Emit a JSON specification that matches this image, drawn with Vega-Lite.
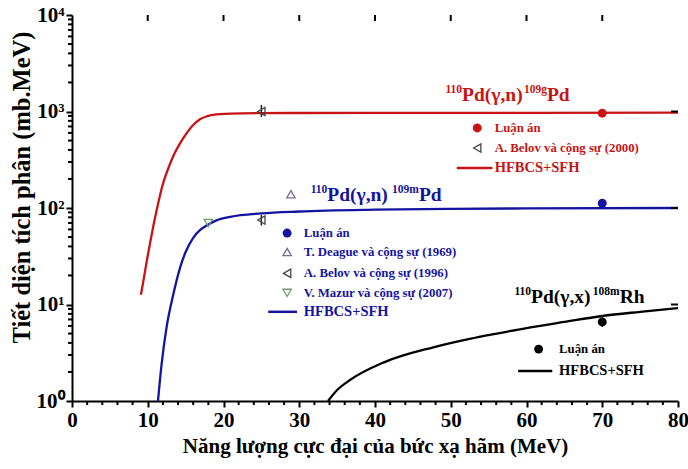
{
  "$schema": "https://vega.github.io/schema/vega-lite/v6.json",
  "width": 606,
  "height": 386,
  "autosize": "none",
  "padding": {"left": 72, "top": 15, "right": 10, "bottom": 68},
  "background": "white",
  "config": {
    "view": {"stroke": null},
    "font": "Liberation Serif",
    "axis": {"ticks": true, "grid": false, "tickColor": "black", "tickWidth": 2, "tickSize": 6, "domainColor": "black", "domainWidth": 2, "labelOverlap": false, "labelFlush": false, "labelBound": false, "labelColor": "black", "labelFontSize": 21, "labelFontWeight": "bold", "labelPadding": 2, "titleColor": "black", "titleFontWeight": "bold"}
  },
  "datasets": {
    "curves": [
      {"series": "109g", "x": 9.1, "y": 12.6}, {"series": "109g", "x": 9.5, "y": 19}, {"series": "109g", "x": 9.9, "y": 29},
      {"series": "109g", "x": 10.3, "y": 43}, {"series": "109g", "x": 10.7, "y": 63}, {"series": "109g", "x": 11.3, "y": 105},
      {"series": "109g", "x": 11.9, "y": 166}, {"series": "109g", "x": 12.85, "y": 275}, {"series": "109g", "x": 13.5, "y": 363},
      {"series": "109g", "x": 14.26, "y": 468}, {"series": "109g", "x": 15, "y": 575}, {"series": "109g", "x": 16, "y": 724},
      {"series": "109g", "x": 16.9, "y": 832}, {"series": "109g", "x": 17.8, "y": 891}, {"series": "109g", "x": 18.6, "y": 922},
      {"series": "109g", "x": 21, "y": 950}, {"series": "109g", "x": 25, "y": 962}, {"series": "109g", "x": 30, "y": 965},
      {"series": "109g", "x": 40, "y": 968}, {"series": "109g", "x": 60, "y": 970}, {"series": "109g", "x": 80, "y": 972},
      {"series": "109m", "x": 11.35, "y": 1}, {"series": "109m", "x": 11.8, "y": 2.3}, {"series": "109m", "x": 12.5, "y": 5.9},
      {"series": "109m", "x": 13.3, "y": 12}, {"series": "109m", "x": 14.26, "y": 24}, {"series": "109m", "x": 15, "y": 35},
      {"series": "109m", "x": 16, "y": 49}, {"series": "109m", "x": 17, "y": 60}, {"series": "109m", "x": 17.8, "y": 66},
      {"series": "109m", "x": 19, "y": 74}, {"series": "109m", "x": 20.9, "y": 81},
      {"series": "109m", "x": 25, "y": 88}, {"series": "109m", "x": 30, "y": 92}, {"series": "109m", "x": 40, "y": 96},
      {"series": "109m", "x": 50, "y": 98}, {"series": "109m", "x": 60, "y": 99}, {"series": "109m", "x": 80, "y": 100},
      {"series": "108m", "x": 33.8, "y": 1}, {"series": "108m", "x": 35, "y": 1.3}, {"series": "108m", "x": 36.7, "y": 1.65},
      {"series": "108m", "x": 41.1, "y": 2.5}, {"series": "108m", "x": 47.7, "y": 3.6}, {"series": "108m", "x": 52.5, "y": 4.4},
      {"series": "108m", "x": 56.1, "y": 5.0}, {"series": "108m", "x": 60, "y": 5.7}, {"series": "108m", "x": 65, "y": 6.6},
      {"series": "108m", "x": 70, "y": 7.6}, {"series": "108m", "x": 75, "y": 8.4}, {"series": "108m", "x": 80, "y": 9.2}
    ],
    "xticks": [
      {"x": 0, "kind": "major"}, {"x": 2, "kind": "minor"}, {"x": 4, "kind": "minor"}, {"x": 6, "kind": "minor"}, {"x": 8, "kind": "minor"},
      {"x": 10, "kind": "major"}, {"x": 12, "kind": "minor"}, {"x": 14, "kind": "minor"}, {"x": 16, "kind": "minor"}, {"x": 18, "kind": "minor"},
      {"x": 20, "kind": "major"}, {"x": 22, "kind": "minor"}, {"x": 24, "kind": "minor"}, {"x": 26, "kind": "minor"}, {"x": 28, "kind": "minor"},
      {"x": 30, "kind": "major"}, {"x": 32, "kind": "minor"}, {"x": 34, "kind": "minor"}, {"x": 36, "kind": "minor"}, {"x": 38, "kind": "minor"},
      {"x": 40, "kind": "major"}, {"x": 42, "kind": "minor"}, {"x": 44, "kind": "minor"}, {"x": 46, "kind": "minor"}, {"x": 48, "kind": "minor"},
      {"x": 50, "kind": "major"}, {"x": 52, "kind": "minor"}, {"x": 54, "kind": "minor"}, {"x": 56, "kind": "minor"}, {"x": 58, "kind": "minor"},
      {"x": 60, "kind": "major"}, {"x": 62, "kind": "minor"}, {"x": 64, "kind": "minor"}, {"x": 66, "kind": "minor"}, {"x": 68, "kind": "minor"},
      {"x": 70, "kind": "major"}, {"x": 72, "kind": "minor"}, {"x": 74, "kind": "minor"}, {"x": 76, "kind": "minor"}, {"x": 78, "kind": "minor"},
      {"x": 80, "kind": "major"}
    ],
    "yticks": [
      {"y": 1, "kind": "major"}, {"y": 2, "kind": "minor"}, {"y": 3, "kind": "minor"}, {"y": 4, "kind": "minor"}, {"y": 5, "kind": "minor"},
      {"y": 6, "kind": "minor"}, {"y": 7, "kind": "minor"}, {"y": 8, "kind": "minor"}, {"y": 9, "kind": "minor"},
      {"y": 10, "kind": "major"}, {"y": 20, "kind": "minor"}, {"y": 30, "kind": "minor"}, {"y": 40, "kind": "minor"}, {"y": 50, "kind": "minor"},
      {"y": 60, "kind": "minor"}, {"y": 70, "kind": "minor"}, {"y": 80, "kind": "minor"}, {"y": 90, "kind": "minor"},
      {"y": 100, "kind": "major"}, {"y": 200, "kind": "minor"}, {"y": 300, "kind": "minor"}, {"y": 400, "kind": "minor"}, {"y": 500, "kind": "minor"},
      {"y": 600, "kind": "minor"}, {"y": 700, "kind": "minor"}, {"y": 800, "kind": "minor"}, {"y": 900, "kind": "minor"},
      {"y": 1000, "kind": "major"}, {"y": 2000, "kind": "minor"}, {"y": 3000, "kind": "minor"}, {"y": 4000, "kind": "minor"}, {"y": 5000, "kind": "minor"},
      {"y": 6000, "kind": "minor"}, {"y": 7000, "kind": "minor"}, {"y": 8000, "kind": "minor"}, {"y": 9000, "kind": "minor"},
      {"y": 10000, "kind": "major"}
    ],
    "topticks": [{"x": 10}, {"x": 20}, {"x": 30}, {"x": 40}, {"x": 50}, {"x": 60}, {"x": 70}],
    "rightticks": [{"y": 10}, {"y": 100}, {"y": 1000}],
    "legendLines": [
      {"series": "109g", "x": 50.8, "x2": 55.5, "y": 260},
      {"series": "109m", "x": 25.9, "x2": 29.7, "y": 8.4},
      {"series": "108m", "x": 58.9, "x2": 63.4, "y": 2.05}
    ],
    "errors": [
      {"x": 25, "y": 875, "y2": 1170},
      {"x": 25, "y": 66, "y2": 85},
      {"x": 70, "y": 5.85, "y2": 7.8}
    ],
    "circles": [
      {"series": "109g", "x": 70, "y": 960},
      {"series": "109m", "x": 70, "y": 112},
      {"series": "108m", "x": 70, "y": 6.6},
      {"series": "109g", "x": 53.5, "y": 676},
      {"series": "109m", "x": 28.4, "y": 55},
      {"series": "108m", "x": 61.6, "y": 3.45}
    ],
    "triangles": [
      {"source": "Belov 2000", "x": 25, "y": 1000},
      {"source": "Deague 1969", "x": 28.9, "y": 139},
      {"source": "Belov 1996", "x": 25, "y": 75},
      {"source": "Mazur 2007", "x": 18, "y": 70},
      {"source": "Belov 2000", "x": 53.5, "y": 418},
      {"source": "Deague 1969", "x": 28.4, "y": 35},
      {"source": "Belov 1996", "x": 28.4, "y": 21},
      {"source": "Mazur 2007", "x": 28.4, "y": 13.2}
    ],
    "titles": [
      {"series": "109g", "part": "sup", "x": 51.5, "y": 1300, "label": "110"},
      {"series": "109g", "part": "main", "x": 51.5, "y": 1300, "label": "Pd(γ,n)"},
      {"series": "109g", "part": "sup", "x": 62.7, "y": 1300, "label": "109g"},
      {"series": "109g", "part": "main", "x": 62.7, "y": 1300, "label": "Pd"},
      {"series": "109m", "part": "sup", "x": 33.7, "y": 118, "label": "110"},
      {"series": "109m", "part": "main", "x": 33.7, "y": 118, "label": "Pd(γ,n)"},
      {"series": "109m", "part": "sup", "x": 45.8, "y": 118, "label": "109m"},
      {"series": "109m", "part": "main", "x": 45.8, "y": 118, "label": "Pd"},
      {"series": "108m", "part": "sup", "x": 60.6, "y": 10.4, "label": "110"},
      {"series": "108m", "part": "main", "x": 60.6, "y": 10.4, "label": "Pd(γ,x)"},
      {"series": "108m", "part": "sup", "x": 72.3, "y": 10.4, "label": "108m"},
      {"series": "108m", "part": "main", "x": 72.3, "y": 10.4, "label": "Rh"}
    ],
    "legendText": [
      {"series": "109g", "kind": "entry", "x": 55.8, "y": 676, "label": "Luận án"},
      {"series": "109g", "kind": "entry", "x": 55.8, "y": 418, "label": "A. Belov và cộng sự (2000)"},
      {"series": "109g", "kind": "model", "x": 55.8, "y": 260, "label": "HFBCS+SFH"},
      {"series": "109m", "kind": "entry", "x": 30.6, "y": 55, "label": "Luận án"},
      {"series": "109m", "kind": "entry", "x": 30.6, "y": 35, "label": "T. Deague và cộng sự (1969)"},
      {"series": "109m", "kind": "entry", "x": 30.6, "y": 21, "label": "A. Belov và cộng sự (1996)"},
      {"series": "109m", "kind": "entry", "x": 30.6, "y": 13.2, "label": "V. Mazur và cộng sự (2007)"},
      {"series": "109m", "kind": "model", "x": 30.6, "y": 8.4, "label": "HFBCS+SFH"},
      {"series": "108m", "kind": "entry", "x": 64.3, "y": 3.45, "label": "Luận án"},
      {"series": "108m", "kind": "model", "x": 64.3, "y": 2.05, "label": "HFBCS+SFH"}
    ]
  },
  "layer": [
    {
      "data": {"name": "curves"},
      "mark": {"type": "line", "strokeWidth": 2.3, "interpolate": "monotone"},
      "encoding": {
        "x": {"field": "x", "type": "quantitative", "scale": {"domain": [0, 80], "nice": false, "zero": false},
          "axis": {"values": [0, 10, 20, 30, 40, 50, 60, 70, 80],
            "title": "Năng lượng cực đại của bức xạ hãm (MeV)", "titleFontSize": 21, "titlePadding": 5}},
        "y": {"field": "y", "type": "quantitative", "scale": {"type": "log", "domain": [1, 10000], "nice": false},
          "axis": {"values": [1, 10, 100, 1000, 10000],
            "labelExpr": "'10' + ['⁰','¹','²','³','⁴'][round(log(datum.value)/LN10)]",
            "title": "Tiết diện tích phân (mb.MeV)", "titleFontSize": 24.5, "titlePadding": 2, "titleY": 172}},
        "color": {"field": "series", "type": "nominal", "scale": {"domain": ["109g", "109m", "108m"], "range": ["#c81414", "#1414a0", "#000000"]}, "legend": null}
      }
    },
    {
      "mark": {"type": "rule", "strokeWidth": 2, "color": "black"},
      "encoding": {
        "x": {"datum": 0, "type": "quantitative"},
        "x2": {"datum": 80},
        "y": {"datum": 10000, "type": "quantitative"}
      }
    },
    {
      "mark": {"type": "rule", "strokeWidth": 2, "color": "black"},
      "encoding": {
        "x": {"datum": 80, "type": "quantitative"},
        "y": {"datum": 1, "type": "quantitative"},
        "y2": {"datum": 10000}
      }
    },
    {
      "data": {"name": "xticks"},
      "transform": [{"filter": "datum.kind === 'minor'"}],
      "mark": {"type": "tick", "orient": "vertical", "size": 4, "thickness": 2, "color": "black", "opacity": 1, "yOffset": 2},
      "encoding": {
        "x": {"field": "x", "type": "quantitative"},
        "y": {"datum": 1, "type": "quantitative"}
      }
    },
    {
      "data": {"name": "yticks"},
      "transform": [{"filter": "datum.kind === 'minor'"}],
      "mark": {"type": "tick", "orient": "horizontal", "size": 4, "thickness": 2, "color": "black", "opacity": 1, "xOffset": -2},
      "encoding": {
        "x": {"datum": 0, "type": "quantitative"},
        "y": {"field": "y", "type": "quantitative"}
      }
    },
    {
      "data": {"name": "topticks"},
      "mark": {"type": "tick", "orient": "vertical", "size": 6, "thickness": 2, "color": "black", "opacity": 1, "yOffset": 3},
      "encoding": {
        "x": {"field": "x", "type": "quantitative"},
        "y": {"datum": 10000, "type": "quantitative"}
      }
    },
    {
      "data": {"name": "rightticks"},
      "mark": {"type": "tick", "orient": "horizontal", "size": 7, "thickness": 2, "color": "black", "opacity": 1, "xOffset": -3.5},
      "encoding": {
        "x": {"datum": 80, "type": "quantitative"},
        "y": {"field": "y", "type": "quantitative"}
      }
    },
    {
      "data": {"name": "legendLines"},
      "mark": {"type": "rule", "strokeWidth": 2.5},
      "encoding": {
        "x": {"field": "x", "type": "quantitative"},
        "x2": {"field": "x2"},
        "y": {"field": "y", "type": "quantitative"},
        "color": {"field": "series", "type": "nominal", "legend": null}
      }
    },
    {
      "data": {"name": "errors"},
      "mark": {"type": "rule", "strokeWidth": 1.5, "color": "#222222"},
      "encoding": {
        "x": {"field": "x", "type": "quantitative"},
        "y": {"field": "y", "type": "quantitative"},
        "y2": {"field": "y2"}
      }
    },
    {
      "data": {"name": "circles"},
      "mark": {"type": "point", "shape": "circle", "filled": true, "opacity": 1, "size": 80},
      "encoding": {
        "x": {"field": "x", "type": "quantitative"},
        "y": {"field": "y", "type": "quantitative"},
        "color": {"field": "series", "type": "nominal", "legend": null}
      }
    },
    {
      "data": {"name": "triangles"},
      "mark": {"type": "point", "filled": false, "size": 70, "strokeWidth": 1.3, "opacity": 1},
      "encoding": {
        "x": {"field": "x", "type": "quantitative"},
        "y": {"field": "y", "type": "quantitative"},
        "shape": {"field": "source", "type": "nominal", "scale": {"domain": ["Belov 2000", "Deague 1969", "Belov 1996", "Mazur 2007"], "range": ["triangle-left", "triangle-up", "triangle-left", "triangle-down"]}, "legend": null},
        "stroke": {"field": "source", "type": "nominal", "scale": {"domain": ["Belov 2000", "Deague 1969", "Belov 1996", "Mazur 2007"], "range": ["#444444", "#7a6e96", "#444444", "#6e9a6e"]}, "legend": null}
      }
    },
    {
      "data": {"name": "titles"},
      "transform": [{"filter": "datum.part === 'sup'"}],
      "mark": {"type": "text", "fontSize": 11.5, "fontWeight": "bold", "align": "right", "baseline": "alphabetic", "dy": -8},
      "encoding": {
        "x": {"field": "x", "type": "quantitative"},
        "y": {"field": "y", "type": "quantitative"},
        "text": {"field": "label"},
        "color": {"field": "series", "type": "nominal", "legend": null}
      }
    },
    {
      "data": {"name": "titles"},
      "transform": [{"filter": "datum.part === 'main'"}],
      "mark": {"type": "text", "fontSize": 19.5, "fontWeight": "bold", "align": "left", "baseline": "alphabetic"},
      "encoding": {
        "x": {"field": "x", "type": "quantitative"},
        "y": {"field": "y", "type": "quantitative"},
        "text": {"field": "label"},
        "color": {"field": "series", "type": "nominal", "legend": null}
      }
    },
    {
      "data": {"name": "legendText"},
      "mark": {"type": "text", "fontWeight": "bold", "align": "left", "baseline": "middle"},
      "encoding": {
        "x": {"field": "x", "type": "quantitative"},
        "y": {"field": "y", "type": "quantitative"},
        "text": {"field": "label"},
        "size": {"field": "kind", "type": "nominal", "scale": {"domain": ["entry", "model"], "range": [12.8, 14.5]}, "legend": null},
        "color": {"field": "series", "type": "nominal", "legend": null}
      }
    }
  ]
}
